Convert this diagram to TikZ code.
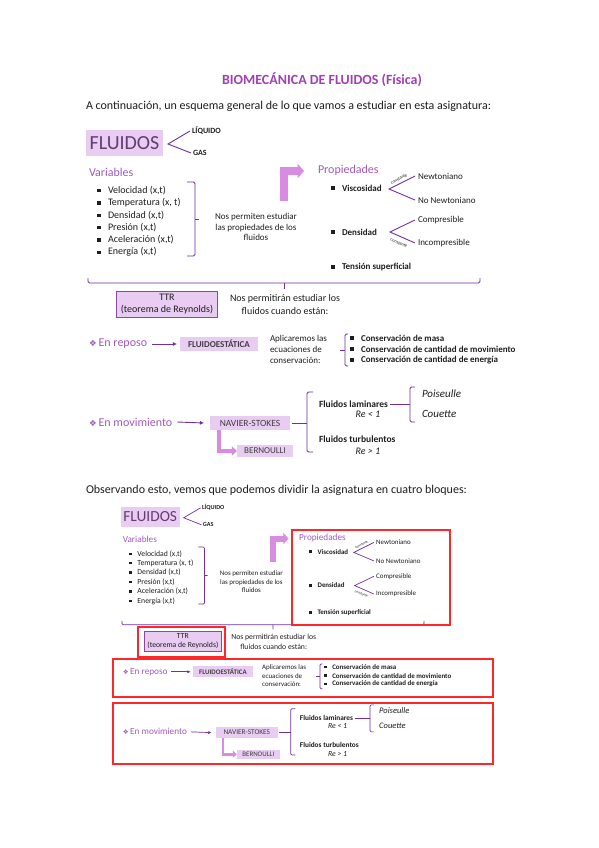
\documentclass[tikz,border=0pt]{standalone}
\usepackage{fontspec}
\setmainfont{Carlito}
\newfontfamily\symf{DejaVu Sans}
\usetikzlibrary{arrows.meta}
\definecolor{ttl}{RGB}{160,64,180}
\definecolor{hd}{RGB}{160,90,190}
\definecolor{lnc}{RGB}{112,48,160}
\definecolor{lfill}{RGB}{232,204,242}
\definecolor{arrc}{RGB}{215,140,225}
\definecolor{ttrc}{RGB}{140,70,170}
\definecolor{fltxt}{RGB}{100,60,115}
\definecolor{txt}{RGB}{30,30,30}
\definecolor{txt2}{RGB}{63,63,63}
\definecolor{redc}{RGB}{255,40,40}
\newcommand\ds{1}
\newcommand\fs[2]{\fontsize{#1}{#2}\selectfont}
\tikzset{
  base/.style={inner sep=0pt, outer sep=0pt, text=txt},
  item/.style={base, anchor=west, font=\fs{10}{12}},
  head/.style={base, anchor=west, font=\fs{12}{14}, text=hd},
  bold9/.style={base, anchor=west, font=\fs{9}{11}\bfseries},
  reg9/.style={base, anchor=west, font=\fs{9}{11}},
  note/.style={base, font=\fs{9}{10.5}, align=center},
  tinylbl/.style={base, font=\fs{4.5}{5}},
  bul/.style={base, fill=txt, minimum size=3.2pt},
  conn/.style={draw=lnc, line width=\ds*0.9pt, rounded corners=\ds*1.5pt},
  tharrow/.style={draw=lnc, line width=\ds*0.9pt, -{Latex[length=0pt 4.5, width=0pt 4.5]}},
  bigarrow/.style={draw=arrc, line width=\ds*8pt, line join=miter, -{Triangle[length=0pt 0.8, width=0pt 1.8]}},
  midarrow/.style={draw=arrc, line width=\ds*3.5pt, line join=miter, -{Triangle[length=0pt 1.5, width=0pt 2.6]}},
  fbox/.style={base, fill=lfill, align=center},
  redbox/.style={draw=redc, line width=1.4pt},
}
\newcommand\diagram{%
\node[fbox, font=\fs{20}{22}, text=fltxt, minimum width=77pt, minimum height=26pt] (fl) at (124.5,143) {FLUIDOS};
\coordinate (flv) at (168,144);
\node[base, anchor=west, font=\fs{8}{9}\bfseries] (liq) at (192,131) {LÍQUIDO};
\node[base, anchor=west, font=\fs{8}{9}\bfseries] (gas) at (193,153) {GAS};
\draw[conn, rounded corners=0pt] ([xshift=-2pt]liq.west) -- (flv) -- ([xshift=-2pt]gas.west);
\node[head] (var) at (89,172) {Variables};
\foreach \t [count=\i] in {{Velocidad (x,t)},{Temperatura (x, t)},{Densidad (x,t)},{Presión (x,t)},{Aceleración (x,t)},{Energía (x,t)}}{
  \node[bul] (vb\i) at (99,178.4+12.3*\i) {};
  \node[item] (v\i) at (108,178.4+12.3*\i) {\t};
}
\coordinate (vbr) at (195,219);
\draw[conn] (187,182) -- (195,182) -- (195,256) -- (187,256);
\draw[conn] (vbr) -- (199,219);
\node[note] (perm) at (256,227) {Nos permiten estudiar\\las propiedades de los\\fluidos};
\coordinate (ba0) at (284,201);
\coordinate (ba1) at (304,171);
\draw[bigarrow] (ba0) |- (ba1);
\node[head] (prop) at (318,170) {Propiedades};
\node[bul] (pb1) at (333,188) {};
\node[bold9] (visc) at (342,188) {Viscosidad};
\coordinate (vv) at (389,189);
\node[reg9] (newt) at (418,176) {Newtoniano};
\node[reg9] (nnewt) at (418,200) {No Newtoniano};
\draw[conn, rounded corners=0pt] ([xshift=-3pt]newt.west) -- (vv) -- ([xshift=-3pt]nnewt.west);
\node[tinylbl, rotate=28] (c1) at (399,179) {constante};
\node[bul] (pb2) at (333,232) {};
\node[bold9] (dens) at (342,232) {Densidad};
\coordinate (dv) at (390,232);
\node[reg9] (comp) at (418,220) {Compresible};
\node[reg9] (incomp) at (418,243) {Incompresible};
\draw[conn, rounded corners=0pt] ([xshift=-3pt]comp.west) -- (dv) -- ([xshift=-3pt]incomp.west);
\node[tinylbl, rotate=-22] (c2) at (399,243) {constante};
\node[bul] (pb3) at (333,267) {};
\node[bold9] (tens) at (342,267) {Tensión superficial};
\coordinate (bm) at (284,283);
\draw[conn] (88,278) -- (88,283) -- (480,283) -- (480,278);
\draw[conn] (bm) -- (284,289);
\node[fbox, draw=ttrc, line width=\ds*1.3pt, minimum width=101pt, minimum height=26pt, font=\fs{10}{12}] (ttr) at (167,304.5) {TTR\\(teorema de Reynolds)};
\node[note, font=\fs{10}{13}] (cuando) at (285,305) {Nos permitirán estudiar los\\fluidos cuando están:};
\node[head] (rep) at (89,344) {{\symf\fs{8.5}{9}❖}\,En reposo};
\node[fbox, font=\fs{9}{10}\bfseries, text=txt2, minimum width=78pt, minimum height=14pt] (fe) at (219,344) {FLUIDOESTÁTICA};
\draw[tharrow] ([xshift=5pt]rep.east) -- ([xshift=-3pt]fe.west);
\node[reg9, align=left] (apl) at (270,349) {Aplicaremos las\\ecuaciones de\\conservación:};
\coordinate (cb) at (345,350);
\draw[conn] (348,334) -- (345,334) -- (345,366) -- (348,366);
\draw[conn] (cb) -- (340,350);
\foreach \t [count=\i] in {{Conservación de masa},{Conservación de cantidad de movimiento},{Conservación de cantidad de energía}}{
  \node[bul] (cbul\i) at (352,327+11*\i) {};
  \node[bold9] (cons\i) at (361,327+11*\i) {\t};
}
\node[head] (mov) at (89,422) {{\symf\fs{8.5}{9}❖}\,En movimiento};
\node[fbox, font=\fs{9.5}{11}, text=txt2, minimum width=80pt, minimum height=14pt] (ns) at (250,423) {NAVIER-STOKES};
\draw[tharrow] ([xshift=5pt]mov.east) -- ([xshift=-6pt]ns.west);
\node[fbox, font=\fs{9}{10}, text=txt2, minimum width=56pt, minimum height=12pt] (ber) at (265,451) {BERNOULLI};
\draw[midarrow] ([xshift=9pt]ns.south west) |- (ber.west);
\coordinate (fb) at (307,423);
\draw[conn] ([xshift=2pt]ns.east) -- (fb);
\draw[conn] (313,392) -- (307,392) -- (307,452) -- (313,452);
\node[bold9, font=\fs{9.5}{11}\bfseries] (flam) at (319,404) {Fluidos laminares};
\node[base, font=\fs{10}{11}\itshape] (re1) at (368,414) {Re < 1};
\node[bold9, font=\fs{9.5}{11}\bfseries] (fturb) at (319,439) {Fluidos turbulentos};
\node[base, font=\fs{10}{11}\itshape] (re2) at (368,451) {Re > 1};
\coordinate (lb) at (410,404);
\draw[conn] ([xshift=2pt]flam.east) -- (lb);
\draw[conn] (415,387) -- (410,387) -- (410,422) -- (415,422);
\node[base, anchor=west, font=\fs{11}{12}\itshape] (poi) at (422,394) {Poiseulle};
\node[base, anchor=west, font=\fs{11}{12}\itshape] (cou) at (422,414) {Couette};
}
\begin{document}
\begin{tikzpicture}[x=1pt,y=-1pt]
\useasboundingbox (0,0) rectangle (599,848);
\fill[white] (0,0) rectangle (599,848);
\node[base, font=\fs{14}{16}\bfseries, text=ttl] (title) at (322,80) {BIOMECÁNICA DE FLUIDOS (Física)};
\node[base, anchor=west, font=\fs{12}{14}] (intro) at (86,106) {A continuación, un esquema general de lo que vamos a estudiar en esta asignatura:};
\diagram
\node[base, anchor=west, font=\fs{12}{14}] (obs) at (86,490) {Observando esto, vemos que podemos dividir la asignatura en cuatro bloques:};
\begin{scope}[name prefix=b-, shift={(54.3,406.9)}, scale=0.77, transform shape]
\def\ds{0.77}
\diagram
\end{scope}
\draw[redbox] (292,530) rectangle (450,625);
\draw[redbox] (138,627) rectangle (225,657);
\draw[redbox] (113,659) rectangle (493,697);
\draw[redbox] (113,703) rectangle (493,764);
\end{tikzpicture}
\end{document}
